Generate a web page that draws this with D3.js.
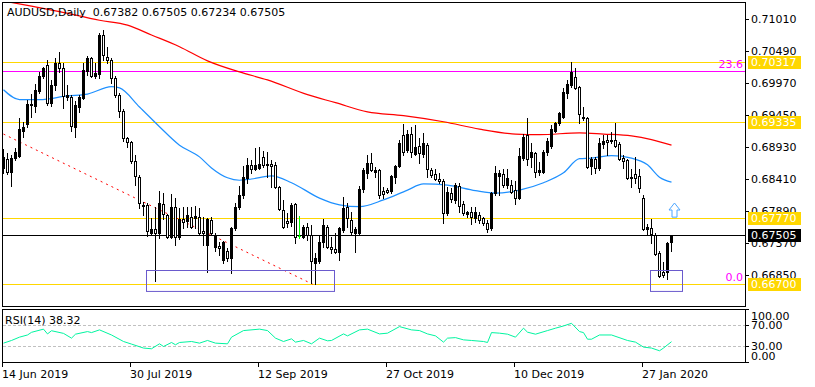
<!DOCTYPE html>
<html>
<head>
<meta charset="utf-8">
<script src="https://d3js.org/d3.v7.min.js"></script>
<style>
  body { margin: 0; background: #fff; }
  svg text { font-family: "DejaVu Sans", sans-serif; font-size: 11px; }
</style>
</head>
<body>
<script>
// daily bars, 14 Jun 2019 .. early Feb 2020 (index 0..167)
var open = [0.6859,0.6874,0.6852,0.6875,0.6879,0.6919,0.6930,0.6961,0.6960,0.6984,0.7008,0.7026,0.6965,0.6993,0.7029,0.7022,0.6974,0.6975,0.6926,0.6958,
  0.6973,0.7016,0.7038,0.7008,0.7012,0.7075,0.7040,0.7035,0.7005,0.6977,0.6951,0.6907,0.6901,0.6871,0.6845,0.6797,0.6798,0.6754,0.6760,0.6753,
  0.6801,0.6783,0.6747,0.6795,0.6746,0.6776,0.6772,0.6780,0.6777,0.6780,0.6757,0.6734,0.6775,0.6731,0.6732,0.6710,0.6724,0.6713,0.6761,0.6795,
  0.6815,0.6843,0.6864,0.6858,0.6859,0.6877,0.6863,0.6866,0.6864,0.6828,0.6791,0.6773,0.6771,0.6800,0.6748,0.6747,0.6763,0.6750,0.6705,0.6708,
  0.6739,0.6763,0.6731,0.6727,0.6722,0.6758,0.6795,0.6775,0.6753,0.6753,0.6825,0.6850,0.6867,0.6852,0.6855,0.6822,0.6823,0.6822,0.6845,0.6862,
  0.6913,0.6888,0.6914,0.6882,0.6895,0.6882,0.6896,0.6856,0.6849,0.6841,0.6838,0.6786,0.6818,0.6807,0.6830,0.6800,0.6784,0.6788,0.6778,0.6783,
  0.6778,0.6770,0.6762,0.6818,0.6846,0.6849,0.6831,0.6831,0.6823,0.6810,0.6875,0.6912,0.6877,0.6884,0.6852,0.6853,0.6885,0.6895,0.6919,0.6932,
  0.6942,0.6980,0.6994,0.7007,0.6991,0.6940,0.6940,0.6862,0.6874,0.6859,0.6898,0.6905,0.6903,0.6905,0.6898,0.6875,0.6872,0.6843,0.6849,0.6846,
  0.6810,0.6760,0.6762,0.6750,0.6720,0.6690,0.6690,0.67382];
var high = [0.6890,0.6883,0.6880,0.6892,0.6940,0.6934,0.6970,0.6979,0.6996,0.7015,0.7023,0.7034,0.7002,0.7038,0.7048,0.7030,0.6994,0.6978,0.6968,0.6978,
  0.7030,0.7041,0.7040,0.7030,0.7078,0.7083,0.7056,0.7038,0.7009,0.6981,0.6955,0.6909,0.6903,0.6880,0.6848,0.6804,0.6802,0.6778,0.6795,0.6822,
  0.6818,0.6784,0.6817,0.6810,0.6794,0.6795,0.6795,0.6795,0.6797,0.6794,0.6779,0.6778,0.6779,0.6753,0.6739,0.6740,0.6729,0.6763,0.6802,0.6830,
  0.6862,0.6875,0.6872,0.6892,0.6893,0.6887,0.6885,0.6872,0.6869,0.6830,0.6807,0.6785,0.6802,0.6802,0.6781,0.6766,0.6770,0.6766,0.6721,0.6750,
  0.6776,0.6766,0.6747,0.6753,0.6763,0.6812,0.6802,0.6788,0.6763,0.6830,0.6859,0.6880,0.6883,0.6861,0.6858,0.6828,0.6827,0.6848,0.6864,0.6905,
  0.6931,0.6921,0.6926,0.6929,0.6908,0.6916,0.6900,0.6859,0.6857,0.6851,0.6841,0.6828,0.6827,0.6835,0.6835,0.6805,0.6789,0.6796,0.6796,0.6788,
  0.6779,0.6775,0.6820,0.6862,0.6856,0.6857,0.6857,0.6840,0.6838,0.6892,0.6914,0.6940,0.6899,0.6885,0.6869,0.6888,0.6908,0.6929,0.6934,0.6950,
  0.6989,0.7002,0.7031,0.7021,0.6992,0.6958,0.6942,0.6877,0.6877,0.6908,0.6913,0.6913,0.6918,0.6932,0.6901,0.6880,0.6874,0.6857,0.6877,0.6857,
  0.6815,0.6768,0.6776,0.6753,0.6724,0.6706,0.6739,0.67505];
var low = [0.6850,0.6849,0.6830,0.6872,0.6876,0.6909,0.6926,0.6942,0.6950,0.6981,0.7005,0.6961,0.6960,0.6986,0.7015,0.6957,0.6970,0.6919,0.6909,0.6950,
  0.6971,0.7010,0.7007,0.7005,0.7005,0.7034,0.7030,0.6997,0.6974,0.6942,0.6903,0.6893,0.6867,0.6831,0.6794,0.6783,0.6748,0.6750,0.6675,0.6745,
  0.6776,0.6745,0.6745,0.6734,0.6744,0.6761,0.6763,0.6761,0.6761,0.6750,0.6734,0.6690,0.6750,0.6724,0.6718,0.6705,0.6708,0.6688,0.6758,0.6792,
  0.6810,0.6835,0.6851,0.6856,0.6857,0.6861,0.6844,0.6828,0.6826,0.6790,0.6761,0.6763,0.6765,0.6737,0.6745,0.6745,0.6742,0.6672,0.6670,0.6704,
  0.6731,0.6729,0.6721,0.6721,0.6710,0.6755,0.6763,0.6750,0.6723,0.6752,0.6820,0.6843,0.6854,0.6844,0.6810,0.6810,0.6818,0.6818,0.6835,0.6861,
  0.6880,0.6885,0.6877,0.6880,0.6867,0.6877,0.6844,0.6844,0.6840,0.6835,0.6770,0.6783,0.6804,0.6802,0.6788,0.6783,0.6780,0.6768,0.6771,0.6770,
  0.6766,0.6755,0.6758,0.6815,0.6815,0.6828,0.6827,0.6819,0.6800,0.6809,0.6872,0.6864,0.6860,0.6845,0.6848,0.6851,0.6880,0.6891,0.6918,0.6929,
  0.6940,0.6973,0.6991,0.6988,0.6932,0.6937,0.6859,0.6849,0.6851,0.6856,0.6892,0.6880,0.6900,0.6893,0.6872,0.6859,0.6841,0.6828,0.6835,0.6820,
  0.6758,0.6750,0.6737,0.6718,0.6682,0.6682,0.6679,0.67234];
var close = [0.6876,0.6852,0.6875,0.6885,0.6922,0.6926,0.6963,0.6963,0.6986,0.7009,0.7022,0.6965,0.6994,0.7030,0.7022,0.6976,0.6977,0.6927,0.6961,0.6974,
  0.7018,0.7038,0.7009,0.7014,0.7075,0.7043,0.7035,0.7005,0.6978,0.6952,0.6908,0.6901,0.6870,0.6846,0.6802,0.6799,0.6757,0.6759,0.6753,0.6802,
  0.6784,0.6747,0.6795,0.6747,0.6776,0.6771,0.6783,0.6763,0.6781,0.6753,0.6753,0.6776,0.6753,0.6750,0.6729,0.6739,0.6713,0.6761,0.6795,0.6815,
  0.6844,0.6864,0.6857,0.6864,0.6866,0.6864,0.6866,0.6862,0.6828,0.6792,0.6763,0.6770,0.6799,0.6747,0.6748,0.6763,0.6750,0.6708,0.6712,0.6739,
  0.6766,0.6731,0.6727,0.6722,0.6761,0.6794,0.6778,0.6755,0.6760,0.6825,0.6856,0.6867,0.6856,0.6856,0.6815,0.6817,0.6820,0.6846,0.6862,0.6900,
  0.6885,0.6914,0.6885,0.6893,0.6883,0.6900,0.6857,0.6848,0.6841,0.6838,0.6786,0.6820,0.6809,0.6832,0.6797,0.6786,0.6788,0.6779,0.6788,0.6775,
  0.6770,0.6760,0.6818,0.6851,0.6851,0.6831,0.6843,0.6820,0.6810,0.6879,0.6909,0.6874,0.6885,0.6853,0.6855,0.6885,0.6903,0.6922,0.6932,0.6949,
  0.6983,0.6996,0.7015,0.6989,0.6947,0.6942,0.6861,0.6874,0.6859,0.6900,0.6903,0.6901,0.6905,0.6895,0.6874,0.6870,0.6843,0.6844,0.6843,0.6827,
  0.6760,0.6763,0.6752,0.6719,0.6683,0.6685,0.6737,0.67505];

// moving averages: [bar, price]
var maRed = [[1,0.7129],[7,0.7122],[14,0.7113],[24,0.7099],[31,0.7091],[37,0.7075],[44,0.7056],[51,0.7033],[59,0.7015],[66,0.7002],
  [76,0.6978],[83,0.6965],[91,0.6950],[100,0.6944],[110,0.6934],[119,0.6922],[128,0.6914],[134,0.6913],[144,0.6916],[150,0.6914],
  [157,0.6911],[162,0.6905],[167,0.6896]];
var maBlue = [[0,0.6986],[4,0.6970],[9,0.6970],[16,0.6976],[21,0.6979],[27,0.6991],[29,0.6989],[34,0.6958],[39,0.6926],[44,0.6896],
  [49,0.6877],[52,0.6859],[56,0.6843],[59,0.6839],[62,0.6841],[67,0.6846],[72,0.6835],[79,0.6810],[84,0.6799],[89,0.6796],[95,0.6807],
  [101,0.6823],[105,0.6833],[111,0.6831],[118,0.6822],[123,0.6818],[129,0.6823],[135,0.6835],[140,0.6851],[144,0.6874],[147,0.6875],
  [152,0.6879],[157,0.6875],[161,0.6864],[164,0.6844],[167,0.6836]];
var trendLine = [[0,0.6914],[77.3,0.6670]];

// RSI(14): [bar, value]
var rsi = [[0,35.6],[2,40.6],[4,46.9],[6,51],[7,56],[10,62],[11,53],[12,59],[15,54],[17,45],[18,52.5],[21,57.4],[22,55.5],[24,60.6],
  [27,51],[30,38.7],[32,33.8],[35,26.3],[37,25],[39,34.3],[40,29.3],[42,36.8],[43,32.5],[44,36.8],[47,38.7],[49,35.6],[51,40.6],
  [53,35.6],[56,34.3],[57,46.9],[60,59.3],[64,62],[66,59.3],[68,45],[70,38.7],[72,43.7],[73,37.5],[75,40.6],[77,34.3],[79,45],
  [81,40],[82,40.6],[85,53],[86,49.3],[89,60.6],[91,62],[94,53],[96,54.4],[99,66.8],[102,60.6],[104,59.3],[106,53],[108,49.3],
  [110,37.5],[111,45],[113,46],[115,41.8],[117,40.6],[120,38.7],[121,36.8],[122,55.5],[124,54.4],[126,52.5],[128,46.9],[130,63.8],
  [131,56.3],[133,52.5],[136,59.3],[138,63.8],[140,68],[142,73],[144,57.4],[145,55.5],[146,43],[147,43],[149,51],[152,51],[156,40.6],
  [158,37.5],[160,28.1],[162,26.3],[164,21.2],[165,26.3],[167,38.32]];

var priceTicks = [0.71010,0.70490,0.69970,0.69450,0.68930,0.68410,0.67890,0.67370,0.66850];
var levels = [0.70317,0.69335,0.67770,0.66700];
var lastPrice = 0.67505;
var fibLevels = [[23.6,0.70165],[0.0,0.66700]];
var rsiTicks = [100,70,30,0];
var dateBars = [0,32,64,96,128,160];
var dateLabels = ["14 Jun 2019","30 Jul 2019","12 Sep 2019","27 Oct 2019","10 Dec 2019","27 Jan 2020"];
var boxes = [[35.75,82.75,0.6693,0.6659],[161.75,169.75,0.6693,0.6659]];
var arrowUp = [167.75,0.6802,0.6779];

var W = 815, H = 387;
var svg = d3.select("body").append("svg").attr("width", W).attr("height", H);

var x = d3.scaleLinear().domain([0,167]).range([3.5,671.5]);
var y = d3.scaleLinear().domain([0.6685,0.7101]).range([275,19]);
var yr = d3.scaleLinear().domain([0,100]).range([362,309]);

svg.append("clipPath").attr("id","main").append("rect").attr("x",3).attr("y",3).attr("width",742).attr("height",303);
var g = svg.append("g").attr("clip-path","url(#main)");

// horizontal levels
g.selectAll(".lvl").data(levels).enter().append("line")
  .attr("x1",2).attr("x2",745).attr("y1",d => Math.round(y(d))+0.5).attr("y2",d => Math.round(y(d))+0.5)
  .attr("stroke","#ffd700");
g.selectAll(".fib").data(fibLevels).enter().append("line")
  .attr("x1",2).attr("x2",745).attr("y1",d => Math.round(y(d[1]))+0.5).attr("y2",d => Math.round(y(d[1]))+0.5)
  .attr("stroke", d => d[0] > 0 ? "#ff00ff" : "#ffd700");
g.append("line").attr("x1",2).attr("x2",745)
  .attr("y1",Math.round(y(lastPrice))+0.5).attr("y2",Math.round(y(lastPrice))+0.5).attr("stroke","#000");

// moving averages
var line = d3.line().x(d => x(d[0])).y(d => y(d[1])).curve(d3.curveMonotoneX);
g.append("path").attr("d",line(maRed)).attr("fill","none").attr("stroke","#ff0000").attr("stroke-width",1.2);
g.append("path").attr("d",line(maBlue)).attr("fill","none").attr("stroke","#1e90ff").attr("stroke-width",1.2);
g.append("path").attr("d",d3.line().x(d => x(d[0])).y(d => y(d[1]))(trendLine))
  .attr("fill","none").attr("stroke","#ff0000").attr("stroke-dasharray","2,4");

// candles
var idx = d3.range(open.length);
var c = g.selectAll(".c").data(idx).enter().append("g");
c.append("rect")
  .attr("x", i => x(i)-0.5).attr("width",1)
  .attr("y", i => Math.round(y(high[i])))
  .attr("height", i => Math.round(y(low[i])) - Math.round(y(high[i])) + 1)
  .attr("fill", i => open[i] === close[i] ? "#00ff00" : "#000");
c.each(function(i) {
  var sel = d3.select(this);
  var yo = Math.round(y(open[i])), yc = Math.round(y(close[i]));
  if (close[i] > open[i]) {
    sel.append("rect").attr("x",x(i)-1.5).attr("width",3).attr("y",yc).attr("height",yo-yc+1).attr("fill","#000");
  } else if (close[i] < open[i]) {
    sel.append("rect").attr("x",x(i)-1).attr("width",2).attr("y",yo+0.5).attr("height",yc-yo)
      .attr("fill","#fff").attr("stroke","#000");
  } else {
    sel.append("rect").attr("x",x(i)-1.5).attr("width",3).attr("y",yo).attr("height",1).attr("fill","#00ff00");
  }
});

// rectangles and arrow
g.selectAll(".box").data(boxes).enter().append("rect")
  .attr("x", d => x(d[0])).attr("width", d => x(d[1]) - x(d[0]))
  .attr("y", d => Math.round(y(d[2]))+0.5).attr("height", d => y(d[3]) - y(d[2]))
  .attr("fill","none").attr("stroke","#6a5acd");
var ax = x(arrowUp[0]), at = y(arrowUp[1]), ab = y(arrowUp[2]);
g.append("path")
  .attr("d","M"+ax+","+at+" L"+(ax+5.5)+","+(at+7)+" L"+(ax+2.5)+","+(at+7)+" L"+(ax+2.5)+","+ab+
       " L"+(ax-2.5)+","+ab+" L"+(ax-2.5)+","+(at+7)+" L"+(ax-5.5)+","+(at+7)+"Z")
  .attr("fill","#fff").attr("stroke","#4da6ff");

// fib labels
g.selectAll(".fibt").data(fibLevels).enter().append("text")
  .attr("x",743).attr("y", d => y(d[1]) - 3).attr("text-anchor","end").attr("fill","#ff00ff")
  .text(d => d[0].toFixed(1));

// title
svg.append("text").attr("x",7).attr("y",16)
  .text("AUDUSD,Daily  " + [open[167],high[167],low[167],close[167]].map(v => v.toFixed(5)).join(" "))
  .attr("xml:space","preserve").style("white-space","pre");

// frames
svg.append("rect").attr("x",2.5).attr("y",2.5).attr("width",743).attr("height",304).attr("fill","none").attr("stroke","#000");
svg.append("rect").attr("x",2.5).attr("y",309.5).attr("width",743).attr("height",53).attr("fill","none").attr("stroke","#000");

// price axis
svg.selectAll(".pt").data(priceTicks).enter().append("line")
  .attr("x1",745).attr("x2",749).attr("y1",d => Math.round(y(d))+0.5).attr("y2",d => Math.round(y(d))+0.5).attr("stroke","#000");
svg.selectAll(".pl").data(priceTicks).enter().append("text")
  .attr("x",751).attr("y",d => y(d)).attr("dy","0.36em").text(d => d.toFixed(5));

var tags = levels.map(v => [v,"#ffd700"]).concat([[lastPrice,"#000"]]);
var tg = svg.selectAll(".tag").data(tags).enter().append("g");
tg.append("rect").attr("x",748).attr("width",53).attr("y",d => Math.round(y(d[0]))-6).attr("height",13).attr("fill",d => d[1]);
tg.append("text").attr("x",751).attr("y",d => y(d[0])).attr("dy","0.36em").attr("fill","#fff").text(d => d[0].toFixed(5));

// RSI panel
svg.selectAll(".rl").data([70,30]).enter().append("line")
  .attr("x1",3).attr("x2",745).attr("y1",d => Math.round(yr(d))+0.5).attr("y2",d => Math.round(yr(d))+0.5)
  .attr("stroke","#c0c0c0").attr("stroke-dasharray","3,2");
svg.append("path").attr("d",d3.line().x(d => x(d[0])).y(d => yr(d[1]))(rsi))
  .attr("fill","none").attr("stroke","#00f5a0");
svg.append("text").attr("x",5).attr("y",324).text("RSI(14) " + rsi[rsi.length-1][1].toFixed(2));
svg.selectAll(".rt").data(rsiTicks).enter().append("line")
  .attr("x1",745).attr("x2",749).attr("y1",d => Math.round(yr(d))+0.5).attr("y2",d => Math.round(yr(d))+0.5).attr("stroke","#000");
svg.selectAll(".rtl").data(rsiTicks).enter().append("text")
  .attr("x",751).attr("y",d => Math.min(356, Math.max(316, yr(d)))).attr("dy","0.36em").text(d => d.toFixed(2));

// time axis
svg.selectAll(".tt").data(dateBars).enter().append("line")
  .attr("x1",d => Math.floor(x(d)) - 1 + 0.5).attr("x2",d => Math.floor(x(d)) - 1 + 0.5)
  .attr("y1",363).attr("y2",367).attr("stroke","#000");
svg.selectAll(".tl").data(dateBars).enter().append("text")
  .attr("x",d => Math.floor(x(d)) - 1).attr("y",378).text((d,i) => dateLabels[i]);
</script>
</body>
</html>
